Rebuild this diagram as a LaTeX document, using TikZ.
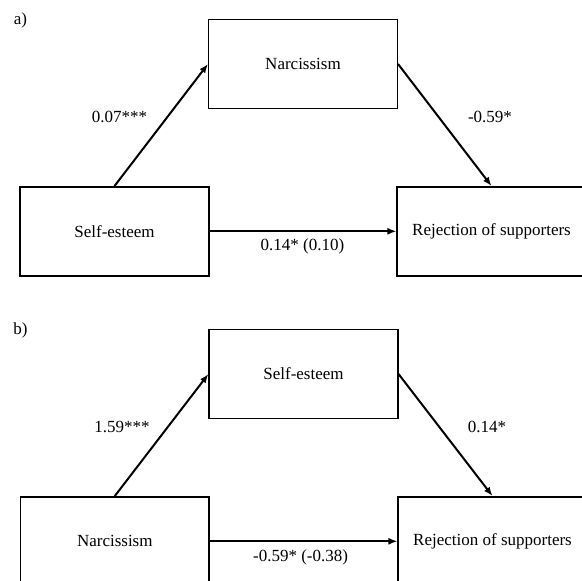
\documentclass[tikz,border=0pt]{standalone}
\usepackage{fontspec}
\setmainfont{Liberation Serif}
\usetikzlibrary{arrows.meta}

\tikzset{
  box/.style={draw, line width=1.5pt, minimum width=188.6pt, minimum height=89pt, inner sep=0pt},
  coef/.style={inner sep=0pt}
}

\begin{document}
\begin{tikzpicture}[x=1pt,y=-1pt,line width=2pt,>={Latex[length=9pt,width=7pt]},
    font=\fontsize{17}{20}\selectfont]
    \useasboundingbox (0,0) rectangle (582,581);

    % Panel a: self-esteem -> narcissism -> rejection
    \node[coef] (tagA) at (20.4,20.7)  {a)};
    \node[box]  (NAa)  at (303,64)     {Narcissism};
    \node[box]  (SEa)  at (114.5,231.3) {Self-esteem};
    \node[box]  (RSa)  at (491.5,231.3) {Rejection of supporters};

    \draw[->] (SEa.north) -- (NAa.west);
    \draw[->] (NAa.east) -- (RSa.north);
    \draw[->] (SEa) -- (RSa);

    \node[coef] (ca1) at (119.5,116.7) {0.07***};
    \node[coef] (ca2) at (490,117.3)   {-0.59*};
    \node[coef] (ca3) at (302.5,246.7) {0.14* (0.10)};

    % Panel b: narcissism -> self-esteem -> rejection
    \node[coef] (tagB) at (20.4,330)   {b)};
    \node[box]  (SEb)  at (303.5,374)  {Self-esteem};
    \node[box]  (NAb)  at (114.8,541.3) {Narcissism};
    \node[box]  (RSb)  at (492.5,541.3) {Rejection of supporters};

    \draw[->] (NAb.north) -- (SEb.west);
    \draw[->] (SEb.east) -- (RSb.north);
    \draw[->] (NAb) -- (RSb);

    \node[coef] (cb1) at (122,426.7)   {1.59***};
    \node[coef] (cb2) at (487,427.3)   {0.14*};
    \node[coef] (cb3) at (300.6,557.7) {-0.59* (-0.38)};
\end{tikzpicture}
\end{document}
